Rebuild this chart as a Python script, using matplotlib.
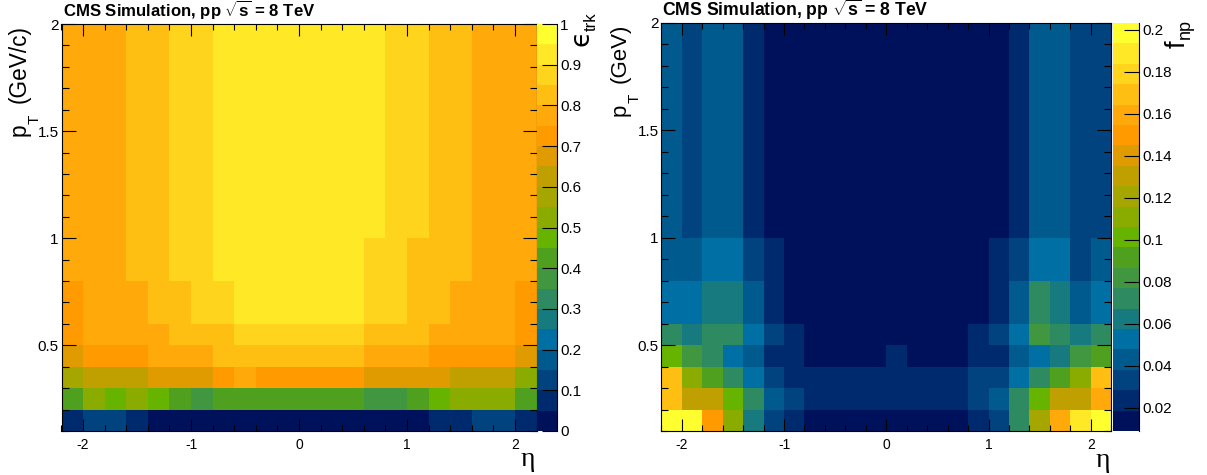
import numpy as np
import matplotlib
matplotlib.use('Agg')
import matplotlib.pyplot as plt
from matplotlib.colors import ListedColormap, BoundaryNorm
from matplotlib.ticker import MultipleLocator, FixedLocator

plt.rcParams['font.family'] = ['Liberation Sans', 'DejaVu Sans']
plt.rcParams['mathtext.fontset'] = 'custom'
plt.rcParams['mathtext.rm'] = 'Liberation Sans'
plt.rcParams['mathtext.it'] = 'Liberation Sans'
plt.rcParams['mathtext.bf'] = 'Liberation Sans:bold'

eta_edges = np.arange(-2.2, 2.21, 0.2)
pt_edges = [0.1, 0.2, 0.3, 0.4, 0.5, 0.6, 0.8, 1.0, 2.0]

# tracking efficiency, one list per pt bin
eff_pt01 = [.08, .13, .13, .08, .03, .03, .03, .03, .03, .03, .03, .03, .03, .03, .03, .03, .03, .08, .08, .13, .13, .08]
eff_pt02 = [.43, .53, .48, .53, .48, .43, .38, .43, .43, .43, .43, .43, .43, .43, .38, .38, .43, .48, .53, .53, .53, .43]
eff_pt03 = [.58, .63, .63, .63, .68, .68, .68, .73, .78, .73, .73, .73, .73, .73, .68, .68, .68, .68, .63, .63, .63, .53]
eff_pt04 = [.68, .73, .73, .73, .78, .78, .78, .83, .83, .83, .83, .83, .83, .83, .78, .78, .78, .73, .73, .73, .73, .68]
eff_pt05 = [.73, .78, .78, .78, .78, .83, .83, .83, .88, .88, .88, .88, .88, .88, .83, .83, .83, .78, .78, .78, .78, .73]
eff_pt06 = [.73, .78, .78, .78, .83, .83, .88, .88, .93, .93, .93, .93, .93, .93, .88, .88, .83, .83, .78, .78, .78, .73]
eff_pt08 = [.78, .78, .78, .83, .83, .88, .88, .93, .93, .93, .93, .93, .93, .93, .88, .88, .83, .83, .83, .78, .78, .78]
eff_pt10 = [.78, .78, .78, .83, .83, .88, .88, .93, .93, .93, .93, .93, .93, .93, .93, .88, .88, .83, .83, .78, .78, .78]

# non-prompt fraction, right panel
fnp_pt01 = [.199, .199, .150, .111, .063, .033, .024, .014, .014, .014, .014, .014, .014, .014, .014, .024, .033, .072, .121, .160, .189, .199]
fnp_pt02 = [.169, .131, .131, .101, .072, .043, .033, .024, .024, .024, .024, .024, .024, .024, .024, .033, .043, .072, .101, .131, .131, .160]
fnp_pt03 = [.169, .111, .092, .072, .053, .033, .024, .024, .024, .024, .024, .024, .024, .024, .024, .033, .033, .053, .072, .092, .111, .169]
fnp_pt04 = [.101, .082, .072, .053, .043, .024, .024, .014, .014, .014, .014, .024, .014, .014, .014, .024, .024, .043, .053, .063, .082, .092]
fnp_pt05 = [.072, .063, .072, .072, .053, .033, .024, .014, .014, .014, .014, .014, .014, .014, .014, .024, .033, .053, .082, .072, .063, .072]
fnp_pt06 = [.053, .053, .063, .063, .043, .024, .014, .014, .014, .014, .014, .014, .014, .014, .014, .014, .024, .043, .072, .063, .043, .053]
fnp_pt08 = [.043, .043, .053, .053, .033, .024, .014, .014, .014, .014, .014, .014, .014, .014, .014, .014, .024, .033, .053, .053, .033, .043]
fnp_pt10 = [.043, .033, .043, .043, .024, .014, .014, .014, .014, .014, .014, .014, .014, .014, .014, .014, .014, .024, .043, .043, .033, .033]

eff = np.array([eff_pt01, eff_pt02, eff_pt03, eff_pt04, eff_pt05, eff_pt06, eff_pt08, eff_pt10])
fnp = np.array([fnp_pt01, fnp_pt02, fnp_pt03, fnp_pt04, fnp_pt05, fnp_pt06, fnp_pt08, fnp_pt10])

palette = ['#00115c', '#002a6e', '#00437f', '#005a8e', '#006fa3', '#177a7e', '#2e8a60', '#409740',
           '#50a020', '#66b300', '#8aac00', '#a5a700', '#bfa000', '#df9b00', '#ff9b00', '#ffa90b',
           '#ffbf12', '#ffd41c', '#ffe926', '#ffff30']
cmap = ListedColormap(palette)

W, H = 1207.0, 475.0


def box(x0, x1, y0, y1):
    # pixel box (y from the top) to figure fractions
    return [x0 / W, 1 - y1 / H, (x1 - x0) / W, (y1 - y0) / H]


def put(x, y, s, **kw):
    # text at pixel position
    return fig.text(x / W, 1 - y / H, s, **kw)


def vert(x, y, s, size, va='bottom', **kw):
    return put(x, y, s, fontsize=size, rotation=90, ha='center', va=va, **kw)


def panel(vals, vmin, vmax, ax_box, cb_box, cb_ticks):
    bounds = np.linspace(vmin, vmax, 21)
    norm = BoundaryNorm(bounds, 20)
    ax = fig.add_axes(box(*ax_box))
    ax.pcolormesh(eta_edges, pt_edges, vals, cmap=cmap, norm=norm)
    ax.set_xlim(-2.2, 2.2)
    ax.set_ylim(0.1, 2.0)
    ax.xaxis.set_major_locator(MultipleLocator(1))
    ax.xaxis.set_minor_locator(MultipleLocator(0.2))
    ax.yaxis.set_major_locator(FixedLocator([0.5, 1, 1.5, 2]))
    ax.yaxis.set_minor_locator(MultipleLocator(0.1))
    ax.xaxis.set_major_formatter(lambda v, p: '%g' % v)
    ax.yaxis.set_major_formatter(lambda v, p: '%g' % v)
    ax.tick_params(which='major', axis='x', direction='in', top=True, length=8.5, width=0.8, labelsize=10, pad=5)
    ax.tick_params(which='minor', axis='x', direction='in', top=True, length=4.3, width=0.8)
    ax.tick_params(which='major', axis='y', direction='in', right=True, length=10, width=0.8, labelsize=11, pad=2)
    ax.tick_params(which='minor', axis='y', direction='in', right=True, length=5, width=0.8)

    cax = fig.add_axes(box(*cb_box))
    for i in range(20):
        cax.axhspan(bounds[i], bounds[i + 1], color=palette[i], lw=0)
    cax.set_ylim(vmin, vmax)
    cax.set_xticks([])
    cax.yaxis.tick_right()
    cax.set_yticks(cb_ticks)
    cax.set_yticklabels(['%g' % t for t in cb_ticks])
    cax.tick_params(axis='y', direction='in', length=10.5, width=0.8, labelsize=11, pad=2.5)
    for s in ['left', 'top', 'bottom']:
        cax.spines[s].set_visible(False)
    cax.spines['right'].set_linewidth(0.8)
    return ax


fig = plt.figure(figsize=(W / 100, H / 100), dpi=100)

panel(eff, 0.0, 1.0, (61.5, 536.5, 24, 431), (536.7, 556.7, 24, 431), np.arange(0, 1.01, 0.1))
panel(fnp, 0.009, 0.2032, (661.3, 1111.3, 23, 431), (1112.7, 1139.3, 23, 431), np.arange(0.02, 0.201, 0.02))

title = r'CMS Simulation, pp $\sqrt{\mathbf{s}}$ = 8 TeV'
put(63, 17.5, title, fontsize=12.1, fontweight='bold', ha='left', va='baseline')
put(662, 16.5, title, fontsize=12.7, fontweight='bold', ha='left', va='baseline')

# p, T and the unit are placed apart, the subscript sits lower than mathtext puts it
vert(18.7, 25, '(GeV/c)', 16.3, va='top')
vert(18.7, 136, 'p', 16.3)
vert(35, 124, 'T', 11)
vert(620, 24, '(GeV)', 16, va='top')
vert(620, 116, 'p', 16)
vert(635, 103, 'T', 11)

put(528, 466, '\u03b7', fontsize=20, family='Liberation Serif', ha='center', va='baseline')
put(1103, 467, '\u03b7', fontsize=20, family='Liberation Serif', ha='center', va='baseline')

vert(581, 46, '\u03f5', 19, family='DejaVu Sans')
vert(591.5, 12.5, 'trk', 12, va='top')
vert(1178, 48, 'f', 19.5)
vert(1185, 19, 'np', 13, va='top')

plt.savefig('out.png', dpi=100)
